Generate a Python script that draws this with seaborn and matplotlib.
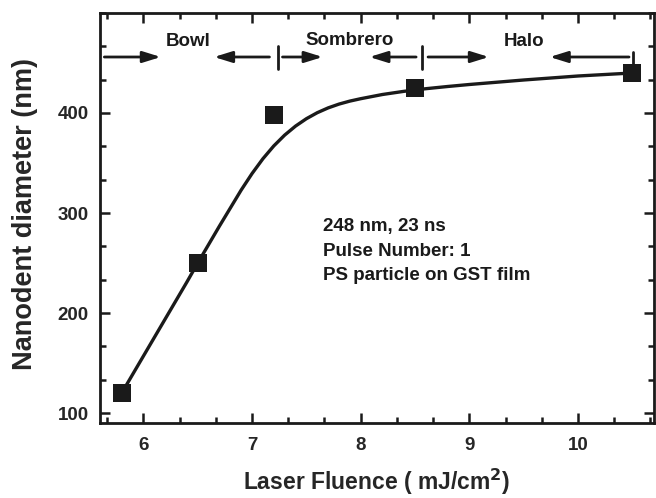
import matplotlib
matplotlib.use('Agg')
import matplotlib.pyplot as plt
import seaborn as sns
import pandas as pd
from matplotlib.ticker import MultipleLocator, FixedLocator

# measured data
fluence = [5.8, 6.5, 7.2, 8.5, 10.5]
diameter = [120, 250, 398, 425, 440]

# fitted curve
fit_x = [5.80, 6.00, 6.20, 6.40, 6.50, 6.60, 6.70, 6.80, 6.90, 7.00, 7.10,
         7.20, 7.30, 7.40, 7.50, 7.60, 7.70, 7.80, 7.90, 8.00, 8.20, 8.40,
         8.60, 8.80, 9.00, 9.50, 10.00, 10.50]
fit_y = [120, 157, 194, 231, 250, 268.5, 287, 305, 323, 339.5, 354.3,
         367.1, 377.9, 386.9, 394.3, 400.3, 405.1, 408.9, 411.9, 414.3,
         418.5, 421.7, 424.3, 426.5, 428.5, 433, 437, 440]

# regime labels and arrows
regions = ["Bowl", "Sombrero", "Halo"]
region_x = [6.41, 7.90, 9.50]
region_y = [471, 472, 471]
arrow_tail = [5.64, 7.16, 7.28, 8.51, 8.62, 10.47]
arrow_head = [6.16, 6.65, 7.65, 8.08, 9.18, 9.74]
arrow_y = [456, 456, 456, 456, 456, 456]
bar_x = [7.235, 8.56, 10.51]
bar_top = [467, 467, 461]
bar_bottom = [444, 444, 447]

note_lines = ["248 nm, 23 ns", "Pulse Number: 1", "PS particle on GST film"]

sns.set_theme(style="ticks")
plt.rcParams['font.family'] = ['Liberation Sans', 'DejaVu Sans']
plt.rcParams['font.weight'] = 'bold'
plt.rcParams['axes.labelweight'] = 'bold'

fig = plt.figure(figsize=(6.56, 4.98), dpi=100)
ax = fig.add_axes([100/656, 75/498, 554/656, 410/498])

df_fit = pd.DataFrame({"x": fit_x, "y": fit_y})
df_pts = pd.DataFrame({"x": fluence, "y": diameter})
sns.lineplot(data=df_fit, x="x", y="y", ax=ax, color="#1a1a1a", lw=2.4,
             sort=True, estimator=None)
sns.scatterplot(data=df_pts, x="x", y="y", ax=ax, marker="s", s=150,
                color="#1a1a1a", edgecolor="#1a1a1a", linewidth=0, zorder=5)

ax.set_xlim(5.6, 10.7)
ax.set_ylim(90, 500)
ax.xaxis.set_major_locator(MultipleLocator(1))
ax.xaxis.set_minor_locator(MultipleLocator(1/3))
ax.yaxis.set_major_locator(FixedLocator([100, 200, 300, 400]))
ax.yaxis.set_minor_locator(MultipleLocator(100/3))
ax.tick_params(which='both', direction='in', top=True, right=True,
               width=1.8, color='#1a1a1a')
ax.tick_params(which='major', length=7, labelsize=13.5)
ax.tick_params(axis='x', which='major', pad=10)
ax.tick_params(axis='y', which='major', pad=8)
ax.tick_params(which='minor', length=4)
for lab in ax.get_xticklabels() + ax.get_yticklabels():
    lab.set_fontweight('bold')
for sp in ax.spines.values():
    sp.set_linewidth(2)
    sp.set_color('#1a1a1a')
    sp.set_visible(True)

ax.set_xlabel("Laser Fluence ( mJ/cm$^\\mathbf{2}$)", fontsize=16.5,
              fontweight='bold')
ax.xaxis.set_label_coords(0.5, -0.143)
ax.xaxis.label.set_va('center')
ax.set_ylabel("Nanodent diameter (nm)", fontsize=19.5, fontweight='bold')
ax.yaxis.set_label_coords(-0.135, 0.51)
ax.yaxis.label.set_va('center')

for name, rx, ry in zip(regions, region_x, region_y):
    ax.text(rx, ry, name, ha='center', va='center', fontsize=13.5,
            fontweight='bold', color='#1a1a1a')

for t, h, yy in zip(arrow_tail, arrow_head, arrow_y):
    ax.annotate("", xy=(h, yy), xytext=(t, yy),
                arrowprops=dict(arrowstyle='-|>,head_length=0.9,head_width=0.28',
                                color='#1a1a1a', lw=2, shrinkA=0, shrinkB=0))

for bx, bt, bb in zip(bar_x, bar_top, bar_bottom):
    ax.plot([bx, bx], [bb, bt], color='#1a1a1a', lw=2)

for i, line in enumerate(note_lines):
    ax.text(7.65, 286 - i * 24.5, line, ha='left', va='center', fontsize=13.5,
            fontweight='bold', color='#1a1a1a')

fig.savefig("out.png", dpi=100)
